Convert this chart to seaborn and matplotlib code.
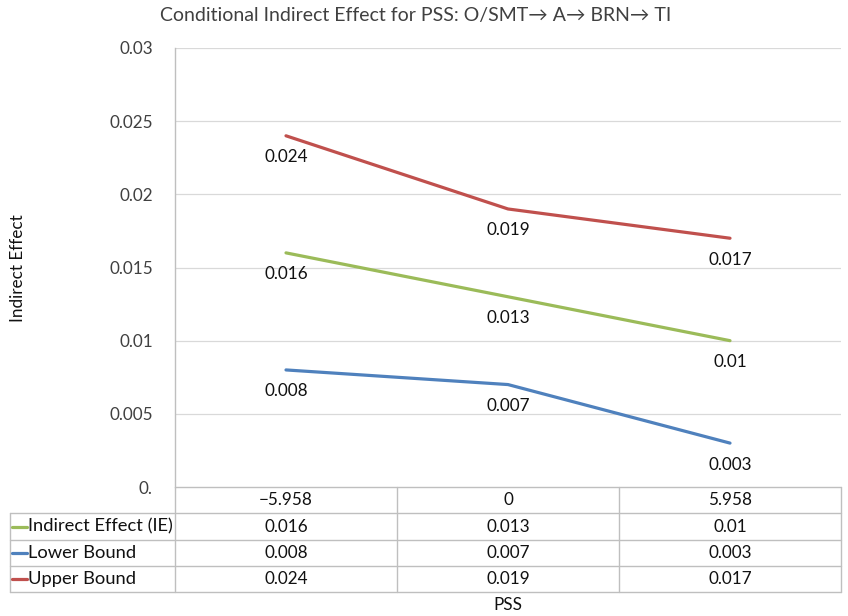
import numpy as np
import pandas as pd
import matplotlib
matplotlib.use('Agg')
import matplotlib.pyplot as plt
import seaborn as sns

# ---- data ----
pss_labels = ['\u22125.958', '0', '5.958']
series_names = ['Indirect Effect (IE)', 'Lower Bound', 'Upper Bound']
ie_values = [0.016, 0.013, 0.01]
lower_values = [0.008, 0.007, 0.003]
upper_values = [0.024, 0.019, 0.017]
ytick_values = [0, 0.005, 0.01, 0.015, 0.02, 0.025, 0.03]
ytick_labels = ['0.', '0.005', '0.01', '0.015', '0.02', '0.025', '0.03']
series_colors = ['#9BBB59', '#4F81BD', '#C0504D']

sns.set_theme(style='white')
plt.rcParams['font.family'] = ['Lato', 'DejaVu Sans']

W, H = 848, 616
fig = plt.figure(figsize=(W / 100, H / 100), dpi=100)
fig.patch.set_facecolor('white')

L, R, T, B = 175, 841, 48, 487
ax = fig.add_axes([L / W, 1 - B / H, (R - L) / W, (B - T) / H])

values = [ie_values, lower_values, upper_values]
rows = []
for name, vals in zip(series_names, values):
    for i, v in enumerate(vals):
        rows.append({'series': name, 'pos': i, 'value': v})
df = pd.DataFrame(rows)

sns.lineplot(data=df, x='pos', y='value', hue='series', hue_order=series_names,
             palette=series_colors, linewidth=2.3, legend=False, ax=ax)

ax.set_xlim(-0.5, len(pss_labels) - 0.5)
ax.set_ylim(0, 0.03)
ax.set_yticks(ytick_values)
ax.set_yticklabels(ytick_labels, fontsize=12.3, color='#404040')
ax.tick_params(axis='y', length=0, pad=16)
ax.set_xticks([])
ax.set_xlabel('')
ax.set_ylabel('')
for y in ytick_values[1:]:
    ax.axhline(y, color='#D9D9D9', lw=0.9, zorder=0)
for s in ['top', 'right', 'bottom']:
    ax.spines[s].set_visible(False)
ax.spines['left'].set_color('#BFBFBF')
ax.spines['left'].set_linewidth(1.0)

txt_c = '#111111'
# data labels below points
for name, vals in zip(series_names, values):
    for i, v in enumerate(vals):
        ax.annotate(f'{v:g}', xy=(i, v), xytext=(0, -15.5), textcoords='offset points',
                    ha='center', va='center', fontsize=12.3, color=txt_c)

# ---- data table ----
tax = fig.add_axes([0, 0, 1, 1], facecolor='none')
tax.set_xlim(0, W)
tax.set_ylim(H, 0)
tax.axis('off')

grid_c = '#BFBFBF'
row_y = [487, 513, 540, 566, 592]
col_x = [L, 397, 619, R]
tax.plot([L, R], [row_y[0], row_y[0]], color=grid_c, lw=1.0)
for y in row_y[1:]:
    tax.plot([10, R], [y, y], color=grid_c, lw=1.0)
for x in col_x:
    tax.plot([x, x], [row_y[0], row_y[-1]], color=grid_c, lw=1.0)
tax.plot([10, 10], [row_y[1], row_y[-1]], color=grid_c, lw=1.0)

centers = [(col_x[i] + col_x[i + 1]) / 2 for i in range(3)]
mid = lambda k: (row_y[k] + row_y[k + 1]) / 2
for c, lab in zip(centers, pss_labels):
    tax.text(c, mid(0), lab, ha='center', va='center', fontsize=12.3, color=txt_c)
for r, (name, vals, col) in enumerate(zip(series_names, values, series_colors)):
    yy = mid(r + 1)
    tax.plot([12, 27], [yy, yy], color=col, lw=2.3)
    tax.text(28, yy, name, ha='left', va='center', fontsize=13.2, color=txt_c)
    for c, v in zip(centers, vals):
        tax.text(c, yy, f'{v:g}', ha='center', va='center', fontsize=12.3, color=txt_c)

fig.text((L + R) / 2 / W, 1 - 605 / H, 'PSS', ha='center', va='center', fontsize=12.3, color=txt_c)
fig.text(18 / W, 1 - 268 / H, 'Indirect Effect', rotation=90, ha='center', va='center',
         fontsize=12.3, color=txt_c)
fig.text(416 / W, 1 - 16 / H, 'Conditional Indirect Effect for PSS: O/SMT\u2192 A\u2192 BRN\u2192 TI',
         ha='center', va='center', fontsize=14, color='#404040')

fig.savefig('out.png', dpi=100, facecolor='white')
